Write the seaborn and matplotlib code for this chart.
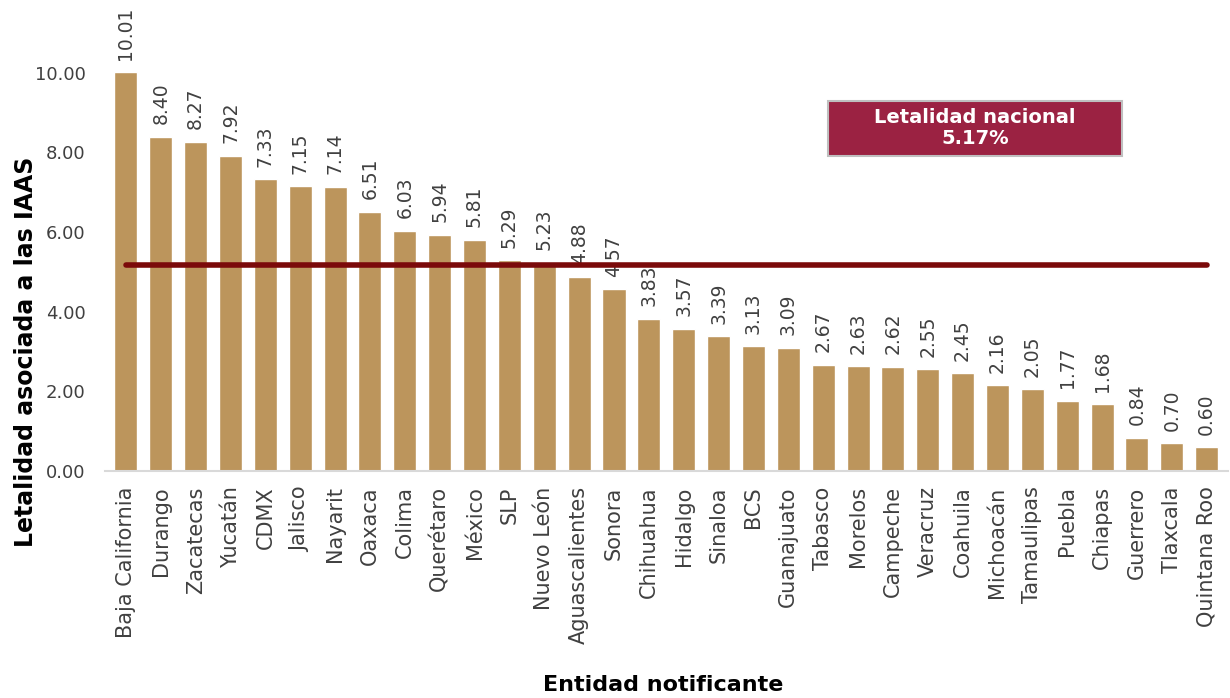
import numpy as np
import pandas as pd
import matplotlib
matplotlib.use("Agg")
import matplotlib.pyplot as plt
from matplotlib.patches import Rectangle
import seaborn as sns

# data
entidades = ["Baja California", "Durango", "Zacatecas", "Yucatán", "CDMX", "Jalisco",
             "Nayarit", "Oaxaca", "Colima", "Querétaro", "México", "SLP", "Nuevo León",
             "Aguascalientes", "Sonora", "Chihuahua", "Hidalgo", "Sinaloa", "BCS",
             "Guanajuato", "Tabasco", "Morelos", "Campeche", "Veracruz", "Coahuila",
             "Michoacán", "Tamaulipas", "Puebla", "Chiapas", "Guerrero", "Tlaxcala",
             "Quintana Roo"]
letalidad = [10.01, 8.40, 8.27, 7.92, 7.33, 7.15, 7.14, 6.51, 6.03, 5.94, 5.81, 5.29,
             5.23, 4.88, 4.57, 3.83, 3.57, 3.39, 3.13, 3.09, 2.67, 2.63, 2.62, 2.55,
             2.45, 2.16, 2.05, 1.77, 1.68, 0.84, 0.70, 0.60]
nacional = 5.17

df = pd.DataFrame({"Entidad": entidades, "Letalidad": letalidad})

sns.set_style("white")
plt.rcParams["font.family"] = ["DejaVu Sans"]

fig = plt.figure(figsize=(12.3, 6.98), dpi=100)
ax = fig.add_axes([0.0854, 0.3252, 0.9126, 0.6748])

sns.barplot(data=df, x="Entidad", y="Letalidad", color="#bc955c", saturation=1,
            width=0.66, ax=ax)
ax.bar_label(ax.containers[0], fmt="%.2f", rotation=90, padding=9,
             fontsize=13.5, color="#404040")

# linea de letalidad nacional
ax.plot([0, len(entidades) - 1], [nacional, nacional], color="#7b0a0a", lw=4,
        solid_capstyle="round", zorder=3)

# recuadro
ax.add_patch(Rectangle((0.6438, 0.6688), 0.2618, 0.1168, transform=ax.transAxes,
                       fc="#9b2242", ec="#bfbfbf", lw=1.5, zorder=4))
ax.text(0.775, 0.728, "Letalidad nacional\n5.17%", transform=ax.transAxes,
        ha="center", va="center", fontsize=14, fontweight="bold", color="white",
        linespacing=1.15, zorder=5)

ax.set_ylim(0, 11.83)
ax.set_xlim(-0.6, len(entidades) - 0.4)
ax.set_yticks(np.arange(0, 11, 2))
ax.set_yticklabels([f"{v:.2f}" for v in np.arange(0, 11, 2)])
ax.tick_params(axis="y", length=0, labelsize=13, labelcolor="#404040", pad=14)
ax.tick_params(axis="x", length=0, labelsize=15, labelcolor="#404040", rotation=90, pad=11)

ax.set_ylabel("Letalidad asociada a las IAAS", fontsize=17, fontweight="bold",
              color="black", va="center")
ax.yaxis.set_label_coords(-0.07, 0.253)
ax.set_xlabel("Entidad notificante", fontsize=16, fontweight="bold", color="black",
              va="center")
ax.xaxis.set_label_coords(0.497, -0.454)

for s in ["top", "right", "left"]:
    ax.spines[s].set_visible(False)
ax.spines["bottom"].set_color("#d9d9d9")
ax.spines["bottom"].set_linewidth(1.5)

fig.savefig("out.png", dpi=100)
